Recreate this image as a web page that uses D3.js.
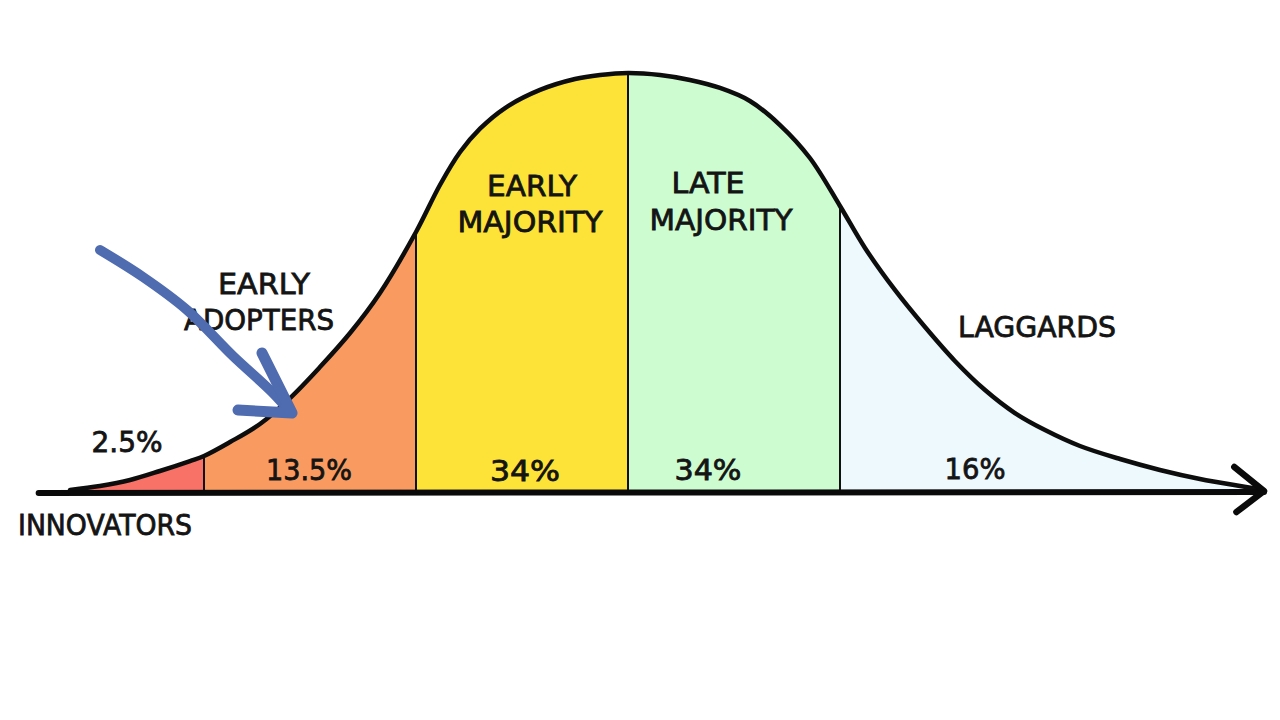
<!DOCTYPE html>
<html>
<head>
<meta charset="utf-8">
<script src="https://cdn.jsdelivr.net/npm/d3@7"></script>
<style>
  html, body { margin: 0; padding: 0; background: #ffffff; }
  svg { display: block; }
  text { font-family: "DejaVu Sans", sans-serif; font-weight: normal; fill: #141414; stroke: #141414; stroke-width: 0.8px; }
</style>
</head>
<body>
<svg id="chart" width="1280" height="720"></svg>
<script>
// ---------- data ----------
const segments = ["Innovators", "Early Adopters", "Early Majority", "Late Majority", "Laggards"];
const shares = [2.5, 13.5, 34, 34, 16];
// segment boundaries in standard deviations from the mean
const bounds = [-2.63, -2, -1, 0, 1, 2.97];
// hand-drawn bell curve (σ from mean, relative density)
const curveS = [-2.632, -2.491, -2.349, -2.208, -2.066, -2.000, -1.877, -1.736, -1.594, -1.453, -1.311,
                -1.170, -1.000, -0.887, -0.792, -0.698, -0.580, -0.415, -0.250, -0.132, 0.000, 0.151,
                0.292, 0.434, 0.575, 0.717, 0.858, 1.000, 1.118, 1.259, 1.401, 1.542, 1.684, 1.825,
                1.967, 2.132, 2.321, 2.509, 2.698, 2.887, 2.972];
const curveH = [0.0019, 0.0057, 0.0114, 0.0200, 0.0295, 0.0343, 0.0476, 0.0648, 0.0895, 0.1190, 0.1514,
                0.1895, 0.2476, 0.2924, 0.3238, 0.3460, 0.3657, 0.3829, 0.3933, 0.3971, 0.3990, 0.3971,
                0.3924, 0.3848, 0.3724, 0.3495, 0.3181, 0.2724, 0.2324, 0.1924, 0.1571, 0.1248, 0.0971, 0.0752,
                0.0590, 0.0438, 0.0314, 0.0210, 0.0124, 0.0057, 0.0029];
const segmentTitles = [["INNOVATORS"], ["EARLY", "ADOPTERS"], ["EARLY", "MAJORITY"], ["LATE", "MAJORITY"], ["LAGGARDS"]];

// ---------- styles / layout ----------
const colors = ["#F87268", "#F99B60", "#FDE337", "#CDFCD0", "#EEF9FD"];
const svg = d3.select("#chart");
const x = d3.scaleLinear().domain([-2, 1]).range([204, 840]);
const y = d3.scaleLinear().domain([0, 0.4]).range([492, 72]);

const pts = curveS.map((s, i) => ({ s, h: curveH[i] }));

function hAt(s) {
  for (let i = 0; i < pts.length - 1; i++) {
    if (s >= pts[i].s && s <= pts[i + 1].s) {
      const t = (s - pts[i].s) / (pts[i + 1].s - pts[i].s);
      return pts[i].h + t * (pts[i + 1].h - pts[i].h);
    }
  }
  return 0;
}

const curveType = d3.curveCatmullRom.alpha(0.5);
const area = d3.area().x(d => x(d.s)).y0(y(0)).y1(d => y(d.h)).curve(curveType);
const line = d3.line().x(d => x(d.s)).y(d => y(d.h)).curve(curveType);

const defs = svg.append("defs");
segments.forEach((name, i) => {
  defs.append("clipPath").attr("id", "seg" + i)
    .append("rect")
    .attr("x", x(bounds[i]))
    .attr("y", 0)
    .attr("width", x(bounds[i + 1]) - x(bounds[i]))
    .attr("height", y(0) + 2);
});

// segment fills
svg.append("g").selectAll("path").data(segments).join("path")
  .attr("d", area(pts))
  .attr("clip-path", (d, i) => `url(#seg${i})`)
  .attr("fill", (d, i) => colors[i]);

// dividers
svg.append("g").selectAll("line").data(bounds.slice(1, -1)).join("line")
  .attr("x1", d => x(d)).attr("x2", d => x(d))
  .attr("y1", y(0)).attr("y2", d => y(hAt(d)))
  .attr("stroke", "#111").attr("stroke-width", 2);

// curve outline
svg.append("path").attr("d", line(pts))
  .attr("fill", "none").attr("stroke", "#0d0d0d").attr("stroke-width", 4.5)
  .attr("stroke-linecap", "round").attr("stroke-linejoin", "round");

// baseline axis with arrow
const axisY = y(0);
svg.append("line")
  .attr("x1", x(-2.78)).attr("x2", x(3.0))
  .attr("y1", axisY + 1).attr("y2", axisY)
  .attr("stroke", "#0a0a0a").attr("stroke-width", 6).attr("stroke-linecap", "round");
svg.append("path")
  .attr("d", d3.line()([[x(2.86), axisY - 25], [x(3.0), axisY - 1], [x(2.87), axisY + 20]]))
  .attr("fill", "none").attr("stroke", "#0a0a0a").attr("stroke-width", 6.5)
  .attr("stroke-linecap", "round").attr("stroke-linejoin", "round");

// percentage labels
const pctLayout = [
  { cx: 127, by: 452, w: 71 },
  { cx: 309, by: 480, w: 86 },
  { cx: 525, by: 481, w: 70 },
  { cx: 708, by: 480, w: 67 },
  { cx: 975, by: 479, w: 61 }
];
svg.append("g").selectAll("text").data(shares).join("text")
  .attr("x", (d, i) => pctLayout[i].cx)
  .attr("y", (d, i) => pctLayout[i].by)
  .attr("text-anchor", "middle")
  .attr("font-size", 28)
  .attr("textLength", (d, i) => pctLayout[i].w)
  .attr("lengthAdjust", "spacingAndGlyphs")
  .text(d => d + "%");

// segment titles
const titleLayout = [
  [{ cx: 105, by: 535, w: 174 }],
  [{ cx: 264, by: 294, w: 92 }, { cx: 259, by: 330, w: 150 }],
  [{ cx: 532, by: 196, w: 90 }, { cx: 530, by: 232, w: 145 }],
  [{ cx: 708, by: 193, w: 73 }, { cx: 721, by: 230, w: 143 }],
  [{ cx: 1037, by: 337, w: 158 }]
];
const titleData = [];
segmentTitles.forEach((lines, i) => lines.forEach((t, j) => titleData.push({ t, ...titleLayout[i][j] })));
svg.append("g").selectAll("text").data(titleData).join("text")
  .attr("x", d => d.cx).attr("y", d => d.by)
  .attr("text-anchor", "middle")
  .attr("font-size", 28)
  .attr("textLength", d => d.w)
  .attr("lengthAdjust", "spacingAndGlyphs")
  .text(d => d.t);

// blue hand-drawn arrow pointing at early adopters
const arrowColor = "#4F6CB0";
const shaft = [[100, 250], [143, 277], [187, 310], [233, 356], [272, 392], [291, 413]];
svg.append("path")
  .attr("d", d3.line().curve(d3.curveCatmullRom)(shaft))
  .attr("fill", "none").attr("stroke", arrowColor).attr("stroke-width", 10)
  .attr("stroke-linecap", "round").attr("stroke-linejoin", "round");
svg.append("path")
  .attr("d", d3.line()([[262, 353], [292, 413], [238, 410]]))
  .attr("fill", "none").attr("stroke", arrowColor).attr("stroke-width", 11)
  .attr("stroke-linecap", "round").attr("stroke-linejoin", "round");
</script>
</body>
</html>
